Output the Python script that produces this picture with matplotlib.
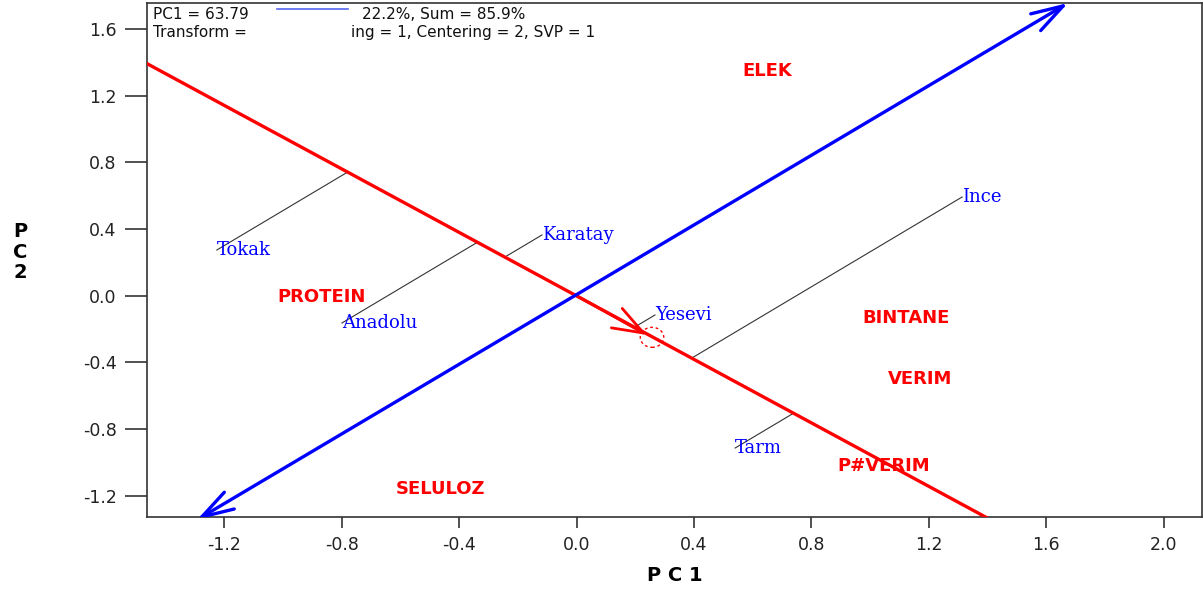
import matplotlib
matplotlib.use("Agg")
import matplotlib.pyplot as plt
import numpy as np
from matplotlib.patches import FancyArrowPatch, Ellipse

# cultivars (blue, serif)
cultivars = ['Tokak', 'Karatay', 'Anadolu', 'Yesevi', 'Ince', 'Tarm']
cult_pc1 = [-1.225, -0.118, -0.799, 0.267, 1.313, 0.540]
cult_pc2 = [0.274, 0.364, -0.164, -0.116, 0.592, -0.914]

# traits (red, bold)
traits = ['ELEK', 'PROTEIN', 'BINTANE', 'VERIM', 'P#VERIM', 'SELULOZ']
trait_pc1 = [0.648, -0.867, 1.122, 1.169, 1.047, -0.465]
trait_pc2 = [1.348, -0.008, -0.134, -0.500, -1.022, -1.160]

# axis through the biplot (blue) and the perpendicular one (red)
blue_axis = [(-1.293, -1.345), (1.674, 1.756)]
red_axis = [(-1.470, 1.399), (1.400, -1.335)]
red_arrow_tip = (0.240, -0.236)
circle_center = (0.257, -0.250)

xticks = [-1.2, -0.8, -0.4, 0.0, 0.4, 0.8, 1.2, 1.6, 2.0]
yticks = [-1.2, -0.8, -0.4, 0.0, 0.4, 0.8, 1.2, 1.6]

fig = plt.figure(figsize=(12.03, 5.9), dpi=100)
ax = fig.add_axes([0.1224, 0.1237, 0.8768, 0.8704])
ax.set_xlim(-1.462, 2.130)
ax.set_ylim(-1.328, 1.753)

for s in ax.spines.values():
    s.set_color('#333333')
    s.set_linewidth(1.2)

ax.set_xticks(xticks, labels=['%.1f' % v for v in xticks])
ax.set_yticks(yticks, labels=['%.1f' % v for v in yticks])
ax.tick_params(axis='x', direction='out', length=8, width=1.2, color='#333333',
               labelsize=12.5, pad=6, labelcolor='#222222')
ax.tick_params(axis='y', direction='out', length=16, width=1.2, color='#333333',
               labelsize=12.5, pad=6, labelcolor='#222222')

# projection lines from cultivars onto red axis
d = np.array(red_axis[1]) - np.array(red_axis[0])
d = d / np.linalg.norm(d)
for x, y in zip(cult_pc1, cult_pc2):
    p = np.array([x, y])
    foot = np.dot(p, d) * d
    ax.plot([x, foot[0]], [y, foot[1]], color='#333333', lw=0.8, zorder=2)

# red axis line with arrow
ax.plot([red_axis[0][0], red_axis[1][0]], [red_axis[0][1], red_axis[1][1]],
        color='red', lw=2.4, zorder=3)
ax.add_patch(FancyArrowPatch((0, 0), red_arrow_tip,
                             arrowstyle='->,head_length=1.1,head_width=0.4',
                             mutation_scale=20, color='red', lw=2.0,
                             shrinkA=0, shrinkB=0, zorder=3))
ax.add_patch(Ellipse(circle_center, 0.08, 0.12, fill=False, ec='red',
                     ls=(0, (2, 2)), lw=1.0, zorder=3))

# blue axis, double headed
ax.add_patch(FancyArrowPatch(blue_axis[0], blue_axis[1],
                             arrowstyle='<->,head_length=1.15,head_width=0.35',
                             mutation_scale=20, color='blue', lw=2.4,
                             shrinkA=0, shrinkB=0, zorder=4))

for name, x, y in zip(cultivars, cult_pc1, cult_pc2):
    ax.text(x, y, name, color='blue', family='DejaVu Serif', fontsize=13,
            ha='left', va='center', zorder=5)

for name, x, y in zip(traits, trait_pc1, trait_pc2):
    ax.text(x, y, name, color='red', family='DejaVu Sans', fontweight='bold',
            fontsize=13, ha='center', va='center', zorder=5)

# header text (partly hidden in the original)
ax.text(0.005, 0.978, 'PC1 = 63.79', transform=ax.transAxes, fontsize=11,
        ha='left', va='center', color='#111111')
ax.plot([0.123, 0.190], [0.990, 0.990], transform=ax.transAxes, color='#5566ee',
        lw=1.2, clip_on=False)
ax.text(0.204, 0.978, '22.2%, Sum = 85.9%', transform=ax.transAxes, fontsize=11,
        ha='left', va='center', color='#111111')
ax.text(0.005, 0.944, 'Transform =', transform=ax.transAxes, fontsize=11,
        ha='left', va='center', color='#111111')
ax.text(0.193, 0.944, 'ing = 1, Centering = 2, SVP = 1', transform=ax.transAxes,
        fontsize=11, ha='left', va='center', color='#111111')

ax.set_xlabel('P C 1', fontsize=14, fontweight='bold', labelpad=8)
ax.set_ylabel('P\nC\n2', fontsize=14, fontweight='bold', rotation=0,
              linespacing=1.1, va='center', ha='center')
ax.yaxis.set_label_coords(-0.1207, 0.5156)

fig.savefig('out.png', dpi=100)
